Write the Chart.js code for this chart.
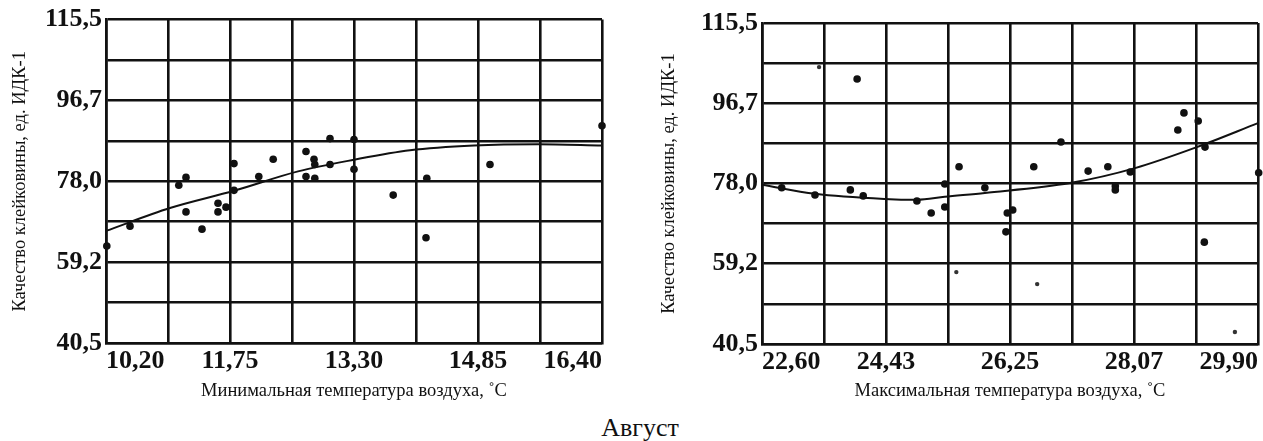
<!DOCTYPE html>
<html lang="ru">
<head>
<meta charset="utf-8">
<title>Август</title>
<script src="https://cdn.jsdelivr.net/npm/chart.js@4.4.1/dist/chart.umd.min.js"></script>
<style>
  html, body { margin: 0; padding: 0; background: #fff; }
  body { width: 1263px; height: 441px; position: relative; overflow: hidden; }
  canvas { position: absolute; top: 0; }
  #minChart { left: 0; }
  #maxChart { left: 640px; }
  .month {
    position: absolute; left: 0; width: 1280px; top: 413px;
    text-align: center; font: 26px 'Liberation Serif', 'Times New Roman', serif; color: #111;
  }
</style>
</head>
<body>
<canvas id="minChart" width="620" height="402"></canvas>
<canvas id="maxChart" width="623" height="402"></canvas>
<div class="month">Август</div>

<script>
// Качество клейковины (ед. ИДК-1) в зависимости от температуры воздуха, август

const qualityTicks = ['40,5', '59,2', '78,0', '96,7', '115,5'];

// минимальная температура
const minTempTicks = ['10,20', '11,75', '13,30', '14,85', '16,40'];
const minTempX = [10.21, 10.50, 11.11, 11.20, 11.20, 11.40, 11.60, 11.60, 11.70, 11.80, 11.80,
                  12.11, 12.29, 12.70, 12.80, 12.81, 12.70, 12.81, 13.00, 13.00, 13.30, 13.30,
                  13.79, 14.21, 14.20, 15.00, 16.40];
const minTempY = [63.0, 67.6, 77.1, 78.9, 70.9, 66.9, 72.9, 70.9, 72.0, 82.1, 75.9,
                  79.1, 83.1, 84.9, 83.1, 81.9, 79.1, 78.7, 87.9, 81.9, 87.7, 80.8,
                  74.8, 78.7, 64.9, 81.9, 90.9];
const minTrendX = [10.2, 11.0, 11.8, 12.6, 13.3, 14.0, 14.8, 15.6, 16.4];
const minTrendY = [66.5, 71.8, 75.8, 80.3, 83.0, 85.2, 86.3, 86.6, 86.3];

// максимальная температура
const maxTempTicks = ['22,60', '24,43', '26,25', '28,07', '29,90'];
const maxTempX = [22.89, 23.38, 23.90, 24.00, 24.09, 24.88, 25.09, 25.29, 25.29, 25.50, 25.88,
                  26.21, 26.29, 26.19, 26.60, 27.00, 27.40, 27.69, 27.80, 27.80, 28.02,
                  28.72, 28.81, 29.02, 29.12, 29.11, 29.91];
const maxTempY = [77.0, 75.3, 76.5, 102.4, 75.1, 73.9, 71.1, 72.5, 77.9, 81.9, 77.0,
                  71.1, 71.8, 66.7, 81.9, 87.7, 80.9, 81.9, 77.4, 76.5, 80.7,
                  90.5, 94.5, 92.6, 86.5, 64.3, 80.5];
const maxFaintX = [23.44, 25.46, 26.65, 29.56];
const maxFaintY = [105.2, 57.3, 54.5, 43.3];
const maxTrendX = [22.60, 23.38, 24.40, 24.88, 25.29, 25.88, 27.13, 28.09, 29.00, 29.90];
const maxTrendY = [77.7, 75.6, 74.4, 74.2, 74.9, 75.8, 78.1, 81.6, 86.5, 92.1];

const serif = "'Liberation Serif', 'Times New Roman', serif";
const ink = '#111';

function pairs(xs, ys) {
  return xs.map((x, i) => ({ x: x, y: ys[i] }));
}

// сетка 8 x 8, подписи через одну линию
function eightSteps(scale) {
  const step = (scale.max - scale.min) / 8;
  scale.ticks = [];
  for (let i = 0; i <= 8; i++) scale.ticks.push({ value: scale.min + i * step });
}

function drawPanel(id, p) {
  new Chart(document.getElementById(id), {
    type: 'scatter',
    data: {
      datasets: [
        {
          data: pairs(p.trendX, p.trendY),
          showLine: true,
          borderColor: ink,
          borderWidth: 2,
          pointRadius: 0,
          cubicInterpolationMode: 'monotone',
          clip: false
        },
        {
          data: pairs(p.x, p.y),
          backgroundColor: ink,
          borderColor: ink,
          borderWidth: 0,
          pointRadius: 3.8,
          clip: 6
        },
        {
          data: pairs(p.faintX || [], p.faintY || []),
          backgroundColor: '#333',
          borderWidth: 0,
          pointRadius: 2.2,
          clip: 6
        }
      ]
    },
    options: {
      responsive: false,
      animation: false,
      events: [],
      layout: { padding: { top: p.top, right: p.right, left: 0, bottom: 0 } },
      plugins: { legend: { display: false }, tooltip: { enabled: false } },
      scales: {
        x: {
          type: 'linear',
          min: p.xMin,
          max: p.xMax,
          afterBuildTicks: eightSteps,
          afterFit: s => { s.height = p.axisH; },
          grid: { color: ink, lineWidth: 2.6, drawTicks: false },
          border: { color: ink, width: 2.6 },
          ticks: {
            autoSkip: false,
            maxRotation: 0,
            align: 'inner',
            padding: 3,
            color: ink,
            font: { family: serif, size: 26, weight: 'bold' },
            callback: (v, i) => (i % 2 ? '' : p.xTicks[i / 2])
          },
          title: {
            display: true,
            text: p.xTitle,
            color: ink,
            font: { family: serif, size: 18.5 },
            padding: { top: 0, bottom: 0 }
          }
        },
        y: {
          type: 'linear',
          min: 40.5,
          max: 115.5,
          afterBuildTicks: eightSteps,
          afterFit: s => { s.width = p.axisW; },
          grid: { color: ink, lineWidth: 2.6, drawTicks: false },
          border: { color: ink, width: 2.6 },
          ticks: {
            autoSkip: false,
            padding: 4,
            color: ink,
            font: { family: serif, size: 26, weight: 'bold' },
            callback: (v, i) => (i % 2 ? '' : qualityTicks[i / 2])
          },
          title: {
            display: true,
            text: 'Качество клейковины, ед. ИДК-1',
            color: ink,
            font: { family: serif, size: 18.5 },
            padding: { top: p.titleGap, bottom: 0 }
          }
        }
      }
    }
  });
}

drawPanel('minChart', {
  x: minTempX, y: minTempY,
  trendX: minTrendX, trendY: minTrendY,
  xMin: 10.2, xMax: 16.4, xTicks: minTempTicks,
  xTitle: 'Минимальная температура воздуха, ˚С',
  top: 17, right: 18, axisW: 106, axisH: 59, titleGap: 9
});

drawPanel('maxChart', {
  x: maxTempX, y: maxTempY,
  faintX: maxFaintX, faintY: maxFaintY,
  trendX: maxTrendX, trendY: maxTrendY,
  xMin: 22.6, xMax: 29.9, xTicks: maxTempTicks,
  xTitle: 'Максимальная температура воздуха, ˚С',
  top: 23, right: 5, axisW: 122, axisH: 58, titleGap: 18
});
</script>
</body>
</html>
